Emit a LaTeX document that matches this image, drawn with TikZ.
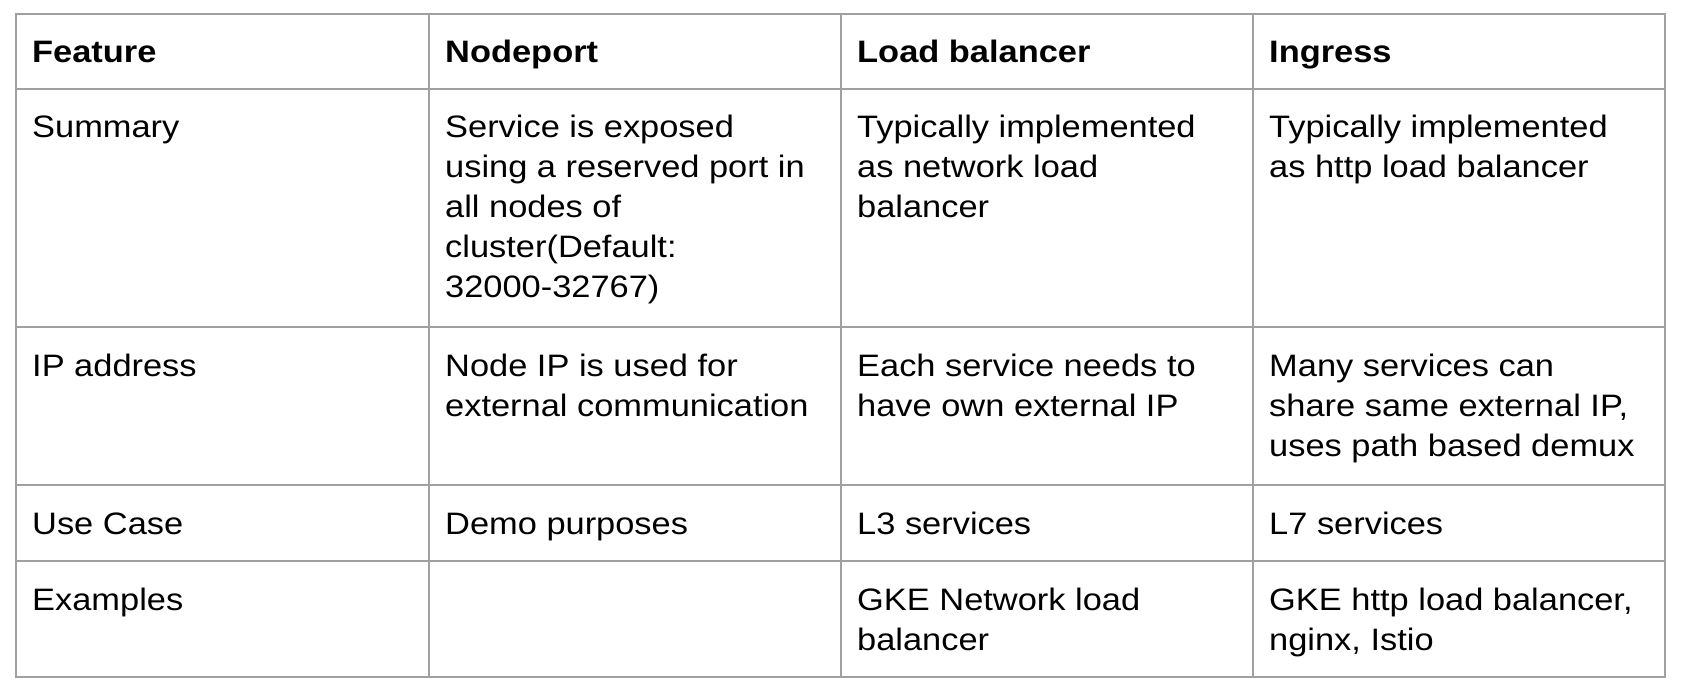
\documentclass[tikz,border=0pt]{standalone}
\usepackage{fontspec}
\setmainfont{Liberation Sans}[FakeStretch=1.11]
\definecolor{gridgray}{RGB}{160,160,160}
\begin{document}
\begin{tikzpicture}[x=1pt,y=-1pt,
  cell/.style={anchor=north west,inner sep=0pt,align=left,
    font=\fontsize{31}{40}\selectfont,text=black},
  headcell/.style={cell,font=\fontsize{31}{40}\selectfont\bfseries},
  gridline/.style={draw=gridgray,line width=2pt}]
\useasboundingbox[fill=white] (0,0) rectangle (1682,689);
% grid
\draw[gridline] (16,14) rectangle (1665,677);
\foreach \yy in {89,327,485,561} \draw[gridline] (16,\yy) -- (1665,\yy);
\foreach \xx in {429,841,1253} \draw[gridline] (\xx,14) -- (\xx,677);
\newcommand{\st}{\rule{0pt}{28pt}}
% header row (top 14)
\node[headcell] (h1) at (32,34) {\st Feature};
\node[headcell] (h2) at (445,34) {\st Nodeport};
\node[headcell] (h3) at (857,34) {\st Load balancer};
\node[headcell] (h4) at (1269,34) {\st Ingress};
% summary row (top 89)
\node[cell] (s1) at (32,109) {\st Summary};
\node[cell] (s2) at (445,109) {\st Service is exposed\\using a reserved port in\\all nodes of\\cluster(Default:\\32000-32767)};
\node[cell] (s3) at (857,109) {\st Typically implemented\\as network load\\balancer};
\node[cell] (s4) at (1269,109) {\st Typically implemented\\as http load balancer};
% ip row (top 327)
\node[cell] (i1) at (32,348) {\st IP address};
\node[cell] (i2) at (445,348) {\st Node IP is used for\\external communication};
\node[cell] (i3) at (857,348) {\st Each service needs to\\have own external IP};
\node[cell] (i4) at (1269,348) {\st Many services can\\share same external IP,\\uses path based demux};
% use case row (top 485)
\node[cell] (u1) at (32,506) {\st Use Case};
\node[cell] (u2) at (445,506) {\st Demo purposes};
\node[cell] (u3) at (857,506) {\st L3 services};
\node[cell] (u4) at (1269,506) {\st L7 services};
% examples row (top 561)
\node[cell] (e1) at (32,582) {\st Examples};
\node[cell] (e3) at (857,582) {\st GKE Network load\\balancer};
\node[cell] (e4) at (1269,582) {\st GKE http load balancer,\\nginx, Istio};
\end{tikzpicture}
\end{document}
